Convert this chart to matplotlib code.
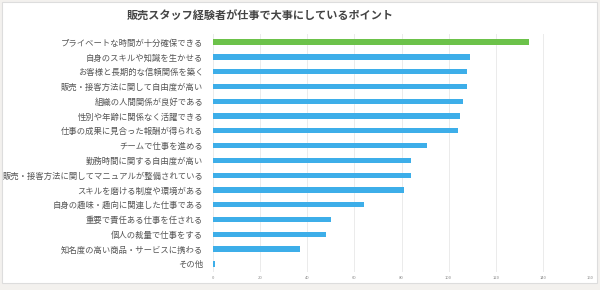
import numpy as np
import matplotlib.pyplot as plt
from matplotlib.patches import Rectangle

plt.rcParams['font.family'] = ['Noto Sans CJK JP', 'DejaVu Sans']

# 項目と回答数
labels = [
    "プライベートな時間が十分確保できる",
    "自身のスキルや知識を生かせる",
    "お客様と長期的な信頼関係を築く",
    "販売・接客方法に関して自由度が高い",
    "組織の人間関係が良好である",
    "性別や年齢に関係なく活躍できる",
    "仕事の成果に見合った報酬が得られる",
    "チームで仕事を進める",
    "勤務時間に関する自由度が高い",
    "販売・接客方法に関してマニュアルが整備されている",
    "スキルを磨ける制度や環境がある",
    "自身の趣味・趣向に関連した仕事である",
    "重要で責任ある仕事を任される",
    "個人の裁量で仕事をする",
    "知名度の高い商品・サービスに携わる",
    "その他",
]
values = [134, 109, 108, 108, 106, 105, 104, 91, 84, 84, 81, 64, 50, 48, 37, 1]
xticks = [0, 20, 40, 60, 80, 100, 120, 140, 160]

colors = ["#6cc24a"] + ["#3daee9"] * (len(values) - 1)

fig = plt.figure(figsize=(6.0, 2.9), dpi=100)
fig.patch.set_facecolor("#f3f1ee")
fig.patches.append(Rectangle((0.004, 0.025), 0.991, 0.967, transform=fig.transFigure,
                             facecolor="white", edgecolor="#dddddd", linewidth=0.8, zorder=-10))

ax = fig.add_axes([213 / 600, 1 - 272 / 290, (590 - 213) / 600, (272 - 34) / 290])
ax.set_zorder(1)
ax.set_facecolor("none")

y = np.arange(len(values))
ax.barh(y, values, height=0.36, color=colors, zorder=3)
ax.set_ylim(len(values) - 0.45, -0.55)
ax.set_xlim(0, 160)
ax.set_yticks(y)
ax.set_yticklabels(labels, fontsize=6.0, color="#555555")
ax.set_xticks(xticks)
ax.set_xticklabels([str(t) for t in xticks], fontsize=3, color="#888888")
ax.tick_params(axis="both", length=0, pad=3)
ax.tick_params(axis="y", pad=7)
ax.grid(axis="x", color="#ebebeb", linewidth=0.7, zorder=0)
for s in ax.spines.values():
    s.set_visible(False)

fig.text(260 / 600, 1 - 16 / 290, "販売スタッフ経験者が仕事で大事にしているポイント",
         ha="center", va="center", fontsize=8, fontweight="bold", color="#444444", zorder=5)

fig.savefig("out.png", dpi=100, facecolor=fig.get_facecolor())
